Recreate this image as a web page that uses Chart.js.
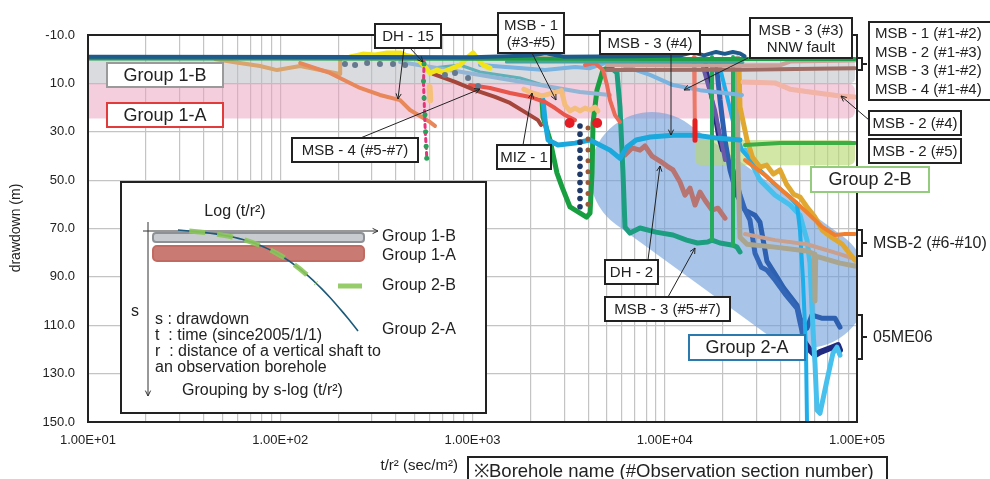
<!DOCTYPE html>
<html>
<head>
<meta charset="utf-8">
<script src="https://cdn.jsdelivr.net/npm/chart.js@4.4.1/dist/chart.umd.min.js"></script>
<style>
body { margin: 0; background: #fff; }
canvas { display: block; }
</style>
</head>
<body>
<canvas id="grafico" width="990" height="479"></canvas>
<script>
const FONTE = '"Liberation Sans", Arial, sans-serif';

// Eixos
const ticksY = [-10, 10, 30, 50, 70, 90, 110, 130, 150];
const decadas = [10, 100, 1000, 10000, 100000];

// Séries [t/r2, rebaixamento]
const linhaVerdeTopo = [[10,-0.3],[100,-0.3],[1000,-0.2],[10000,-0.1],[97600,-0.1]];
const linhaAzulTopo = [[10,-1.0],[300,-0.9],[1000,-0.8],[2000,-1.5],[2400,-2.4],[3000,-1.0],[7000,-1.2],[12000,-1.5],[14000,-2.8],[16000,-1.6],[18500,-3.0],[20500,-2.2],[22600,-3.0],[24600,-2.4],[26000,-1.2]];
const linhaTealTopo = [[1500,1.2],[5000,1.2],[25500,1.4]];
const linhaMarromTopo = [[420,-0.5],[2000,-0.5],[5200,-0.4]];
const msbRosaTopo = [[5000,2.4],[24600,2.6],[40000,2.4],[45000,1.0],[97600,0.5]];
const msbMarromTopo = [[5000,4.5],[24600,4.4],[60000,4.0],[97600,3.7]];
const dh15Bege = [[45.8,-0.1],[56.8,1.2],[78.5,2.8],[96.2,4.5],[127,2.8],[181,5.3],[205,6.1],[205,0.3]];
const dh15Laranja = [[127,1.6],[181,5.7],[260,11.9],[330,14.8],[420,16.9],[473,21.0],[533,23.5],[601,26.0],[638,27.6]];
const dh15Rosa = [[560,1.0],[556,10],[562,20],[568,30],[574,36],[578,40.5]];
const dh15PontosVerdes = [[560,2],[556,9],[560,16],[566,23],[570,30],[574,36],[578,41]];
const dh15Amarelo = [[231,-0.9],[269,-2.1],[311,-1.7],[359,-2.6],[420,-2.6],[446,-1.7],[514,-0.5],[566,3.2],[601,5.7],[654,4.5],[703,5.3],[861,2.4],[936,-0.5],[1006,-2.6],[1055,-0.5],[1134,2.4],[1233,3.7]];
const dh15Pessego = [[598,11.5],[603,16.9]];
const miz1 = [[1850,12.4],[1990,13.6],[2300,15.2],[2900,13.0],[3028,19.0],[3215,21.4],[3414,20.2],[3624,21.4],[3848,20.2],[4087,21.0],[4337,19.8],[4494,21.4]];
const msb4Vinho = [[623,6.1],[811,9.4],[1030,12.8],[1309,15.6],[1567,18.1],[1876,21.9],[2191,25.2],[2272,27.2]];
const msb1Vermelho = [[971,10.7],[1233,11.9],[1567,14.0],[1992,15.6],[2384,17.7],[2686,20.2],[3028,23.1],[3414,25.2]];
const msb1Vermelho2 = [[3848,2.4],[4337,1.6],[4772,4.5],[5008,10.7],[5190,16.9],[5511,23.1],[5851,26.0]];
const blocosVermelhos = [[3200,26.4],[4450,26.4]];
const verticalSalmao = [[14197,-0.9],[14300,16.9],[14368,33.0]];
const verticalVermelho = [[14368,25.5],[14368,33.5]];
const nnwAzulClaro = [[1094,2.4],[2384,4.5],[3414,3.2],[4087,3.7],[4889,1.6],[5511,1.2],[5851,2.0],[6595,3.7],[8380,6.5],[11040,10.7],[15257,12.8],[25220,14.8]];
const azulAcinzentado = [[420,1.2],[1094,6.5],[2245,10.7],[3624,13.6],[5190,14.8]];
const tealClaro = [[601,3.7],[861,2.4],[1094,5.3],[1766,7.8],[2851,12.8]];
const msb3Ciano = [[2327,16.9],[2384,25.2],[2471,33.4],[2784,35.5],[3414,34.7],[4087,33.4],[5190,37.6],[5851,41.0],[6362,36.3],[7100,33.4],[8380,32.2],[11040,31.4],[14500,31.4],[18500,32.6],[24630,33.4]];
const dhVerde = [[2300,16.9],[2327,23.9],[2530,33.4],[2751,47.1],[2921,52.8],[3215,61.1],[3920,65.3],[4087,63.6],[4185,47.1],[4236,26.4],[4440,12.8],[4772,4.5],[5190,3.2]];
const msb3Teal = [[5190,3.2],[5645,5.7],[5851,19.8],[6065,47.1],[6212,69.4],[6595,71.9],[7433,69.8],[9000,71.5],[11040,72.7],[13000,74.8],[14800,76.0],[16700,75.6],[17613,74.8],[19384,76.0],[22650,76.9],[23760,77.7],[24630,79.7]];
const picoVerde1 = [[17613,74.8],[17613,-0.9]];
const picoVerde2 = [[22650,76.9],[22650,-0.9]];
const dh2Marrom = [[6212,39.6],[6754,36.7],[7433,37.6],[7893,35.9],[8585,40.1],[9447,42.1],[10273,44.2],[11040,45.8],[12005,50.8],[12747,56.2],[13535,53.3],[14368,60.3],[15257,54.9],[16195,58.3],[17613,62.4],[18923,61.6],[20580,65.7]];
const roxoDiagonal = [[15800,3.2],[18256,21.0],[20580,41.7]];
const marinhoDiagonal = [[16195,0.3],[17613,16.9],[18923,31.4],[19853,37.6]];
const me06AzulA = [[18476,0.3],[19384,16.9],[20580,33.4],[21850,45.8],[23760,56.2],[26150,62.4],[29470,64.5],[31290,67.4],[34000,83.5],[37800,89.3],[41500,94.5],[48750,101.7],[50520,107.1],[54940,111.2],[58300,105.8],[65500,107.1],[72400,107.1],[76840,107.1],[81570,110.8]];
const me06AzulB = [[22650,45.8],[24630,56.2],[26150,62.4],[27760,66.5],[29470,80.2],[31800,86.0],[34000,87.2],[37460,91.3],[42220,97.0],[48750,103.0],[50520,108.7],[52370,114.1],[54000,118.0]];
const me06Marinho = [[52370,116.2],[56940,120.3],[60460,122.4],[64200,121.1],[72360,119.5],[79650,118.2],[81570,120.3]];
const cianoForte = [[18923,0.3],[21000,14.8],[23200,29.3],[25220,37.6],[30200,44.6],[36700,51.3],[44820,57.0],[48750,60.3],[50520,70.7],[52370,91.3],[54290,120.3],[54940,150]];
const cianoClaro = [[26150,37.6],[31290,50.0],[37460,56.2],[44820,60.3],[50520,64.5],[54940,74.8],[56940,84.3],[59030,112.0],[60460,125.7],[61940,145.1],[64200,146.4],[69820,132.7],[75000,121.5],[78700,119.1],[81570,122.4]];
const msb2Dourado = [[24300,1.0],[24630,19.8],[26780,33.4],[28600,40.5],[31290,44.6],[33900,43.8],[36700,47.5],[39770,45.8],[43000,51.7],[46800,55.8],[50520,57.0],[54940,61.1],[60460,65.3],[66000,70.7],[73600,73.6],[83800,76.5],[97630,83.1]];
const msb2Laranja = [[26150,41.7],[33230,47.9],[40500,54.1],[48750,59.5],[56900,64.5],[66000,69.4],[76840,72.7],[86630,72.3],[97630,72.3]];
const msb2Cinza = [[23760,-0.5],[24000,40.0],[24630,73.6],[26780,76.5],[37460,77.7],[54940,79.3],[60000,80.6],[60460,100.0],[61000,81.4],[81570,84.3],[97630,85.5]];
const msb2RosaBege = [[26150,72.3],[37460,74.8],[54940,76.5],[81570,80.6],[97630,82.7]];
const msb2Verde5 = [[26150,35.5],[39770,34.7],[97630,34.7]];
const msb2Rosa4 = [[25530,9.4],[37460,9.8],[44820,12.4],[56940,13.6],[81570,15.2],[97630,15.6]];
const pontosMarinhoX = 3624;
const pontosMarinhoY = [27.6, 31.0, 34.3, 37.6, 41.0, 44.3, 47.6, 51.0, 54.3, 57.6, 61.0];
const pontosMarromX = 3989;
const pontosMarromY = [28.5, 33.0, 37.5, 42.0, 46.5, 51.0, 55.5, 60.0];
const pontosCinza = [[217,2.0],[245,2.4],[283,1.6],[330,2.0],[386,2.0],[446,2.4],[719,6.5],[811,5.7],[948,7.8],[1068,11.1]];

// Áreas de agrupamento (em unidades dos eixos)
const faixaGrupo1B = { xMin: 10, xMax: 97600, yMin: 0, yMax: 10 };
const faixaGrupo1A = { xMin: 10, xMax: 97600, yMin: 10, yMax: 24.5 };
const faixaGrupo2B = { xMin: 14350, xMax: 97600, yMin: 33.4, yMax: 43.8 };
const capsulaGrupo2A = { x1: 8590, y1: 47.5, x2: 54300, y2: 93.8 };

function serie(pontos, cor, largura, extra) {
    return Object.assign({
        data: pontos.map(p => ({ x: p[0], y: p[1] })),
        borderColor: cor,
        backgroundColor: cor,
        borderWidth: largura,
        showLine: true,
        pointRadius: 0,
        borderCapStyle: 'round',
        borderJoinStyle: 'round',
        tension: 0
    }, extra || {});
}

function pontos(lista, cor, raio) {
    return serie(lista, cor, 0, { showLine: false, pointRadius: raio, pointBorderWidth: 0 });
}

const ticksX = [];
decadas.slice(0, -1).forEach(d => {
    for (let m = 1; m <= 9; m++) ticksX.push(d * m);
});
ticksX.push(100000);

const datasets = [
    pontos(dh15PontosVerdes, '#2ca05a', 2.5),
    pontos(pontosMarinhoY.map(v => [pontosMarinhoX, v]), '#1f3a68', 2.8),
    pontos(pontosMarromY.map(v => [pontosMarromX, v]), '#9a5a3a', 2.5),
    pontos(pontosCinza, '#66788e', 3),
    pontos(blocosVermelhos, '#e51c24', 5),
    serie(dh15Rosa, '#e6337a', 3, { borderDash: [3, 4] }),
    serie(linhaAzulTopo, '#1f5a8c', 4),
    serie(linhaVerdeTopo, '#1f9e48', 4),
    serie(linhaTealTopo, '#4aa3a3', 3),
    serie(linhaMarromTopo, '#8a5a30', 3),
    serie(msbRosaTopo, '#c9a39b', 4),
    serie(msbMarromTopo, '#9e6e66', 4),
    serie(dh15Amarelo, '#f3e41a', 5),
    serie(dh15Pessego, '#f5c07a', 6),
    serie(miz1, '#f5bd7c', 5),
    serie(dh15Laranja, '#e8875a', 4),
    serie(dh15Bege, '#d9a46d', 4),
    serie(msb4Vinho, '#a6453a', 4),
    serie(msb1Vermelho, '#e8554a', 4),
    serie(msb1Vermelho2, '#ea6a58', 4),
    serie(verticalVermelho, '#e52020', 5),
    serie(verticalSalmao, '#ec7868', 4),
    serie(nnwAzulClaro, '#7ab3e0', 4),
    serie(azulAcinzentado, '#93b6d6', 4),
    serie(tealClaro, '#5fb0b8', 3),
    serie(msb3Ciano, '#1ba8dc', 5),
    serie(dhVerde, '#18a040', 5),
    serie(picoVerde1, '#25ab5a', 4),
    serie(picoVerde2, '#25ab5a', 4),
    serie(msb3Teal, '#1e9e80', 5),
    serie(dh2Marrom, '#b77470', 5),
    serie(roxoDiagonal, '#6a58a8', 4),
    serie(marinhoDiagonal, '#2a2a80', 4),
    serie(msb2Verde5, '#3cae44', 4),
    serie(msb2Rosa4, '#f2b4a6', 5),
    serie(msb2Laranja, '#f08030', 4),
    serie(msb2Dourado, '#e0a830', 5),
    serie(msb2RosaBege, '#c9a08e', 4),
    serie(msb2Cinza, '#aaa58e', 5),
    serie(cianoForte, '#1eaeea', 4),
    serie(cianoClaro, '#48c0ee', 5),
    serie(me06Marinho, '#1f2a80', 6),
    serie(me06AzulB, '#3466b8', 5),
    serie(me06AzulA, '#2d60b0', 5)
];

// Caixas de texto (posições em pixels da figura)
const caixas = [
    { x: 107, y: 63, w: 116, h: 24, txt: ['Group 1-B'], borda: '#9a9a9a', fonte: 18 },
    { x: 107, y: 103, w: 116, h: 24, txt: ['Group 1-A'], borda: '#e23b3b', fonte: 18 },
    { x: 375, y: 24, w: 66, h: 24, txt: ['DH - 15'] },
    { x: 498, y: 13, w: 66, h: 40, txt: ['MSB - 1', '(#3-#5)'], entrelinha: 17 },
    { x: 600, y: 31, w: 100, h: 23, txt: ['MSB - 3 (#4)'] },
    { x: 750, y: 18, w: 102, h: 40, txt: ['MSB - 3 (#3)', 'NNW fault'], entrelinha: 17 },
    { x: 869, y: 22, w: 130, h: 78, txt: ['MSB - 1 (#1-#2)', 'MSB - 2 (#1-#3)', 'MSB - 3 (#1-#2)', 'MSB - 4 (#1-#4)'], alinhar: 'left', entrelinha: 18.5 },
    { x: 869, y: 111, w: 92, h: 24, txt: ['MSB - 2 (#4)'] },
    { x: 869, y: 139, w: 92, h: 24, txt: ['MSB - 2 (#5)'] },
    { x: 811, y: 167, w: 118, h: 25, txt: ['Group 2-B'], borda: '#93cc7c', fonte: 18 },
    { x: 689, y: 335, w: 116, h: 25, txt: ['Group 2-A'], borda: '#2a7ab0', fonte: 18 },
    { x: 605, y: 260, w: 53, h: 24, txt: ['DH - 2'] },
    { x: 605, y: 297, w: 125, h: 24, txt: ['MSB - 3 (#5-#7)'] },
    { x: 497, y: 145, w: 54, h: 24, txt: ['MIZ - 1'] },
    { x: 292, y: 138, w: 126, h: 24, txt: ['MSB - 4 (#5-#7)'] }
];

const setas = [
    [404, 48, 398, 99], [410, 48, 423, 62],
    [532, 53, 556, 100],
    [671, 54, 671, 135],
    [748, 58, 684, 90],
    [869, 120, 841, 96],
    [648, 260, 660, 166],
    [668, 297, 695, 248],
    [523, 145, 532, 93],
    [358, 139, 480, 89]
];

function faixa(ctx, x, y, f, cor, raio) {
    const x0 = x.getPixelForValue(f.xMin), x1 = x.getPixelForValue(f.xMax);
    const y0 = y.getPixelForValue(f.yMin), y1 = y.getPixelForValue(f.yMax);
    ctx.fillStyle = cor;
    ctx.beginPath();
    ctx.roundRect(x0, Math.min(y0, y1), x1 - x0, Math.abs(y1 - y0), raio);
    ctx.fill();
}

function caixa(ctx, c) {
    ctx.fillStyle = '#fff';
    ctx.fillRect(c.x, c.y, c.w, c.h);
    ctx.strokeStyle = c.borda || '#222';
    ctx.lineWidth = 2;
    ctx.strokeRect(c.x, c.y, c.w, c.h);
    const tam = c.fonte || 15;
    ctx.fillStyle = '#222';
    ctx.font = `${tam}px ${FONTE}`;
    ctx.textBaseline = 'middle';
    const alinhar = c.alinhar || 'center';
    ctx.textAlign = alinhar;
    const tx = alinhar === 'center' ? c.x + c.w / 2 : c.x + 6;
    const lh = c.entrelinha || tam * 1.2;
    const y0 = c.y + c.h / 2 - (c.txt.length - 1) * lh / 2 + 1;
    c.txt.forEach((t, i) => ctx.fillText(t, tx, y0 + i * lh));
}

function seta(ctx, x1, y1, x2, y2, cor) {
    ctx.strokeStyle = cor || '#222';
    ctx.lineWidth = 1;
    ctx.beginPath();
    ctx.moveTo(x1, y1);
    ctx.lineTo(x2, y2);
    const ang = Math.atan2(y2 - y1, x2 - x1), t = 6;
    ctx.moveTo(x2 - t * Math.cos(ang - 0.45), y2 - t * Math.sin(ang - 0.45));
    ctx.lineTo(x2, y2);
    ctx.lineTo(x2 - t * Math.cos(ang + 0.45), y2 - t * Math.sin(ang + 0.45));
    ctx.stroke();
}

function chave(ctx, x, y1, y2) {
    ctx.strokeStyle = '#222';
    ctx.lineWidth = 2;
    ctx.beginPath();
    ctx.moveTo(x, y1);
    ctx.lineTo(x + 5, y1);
    ctx.lineTo(x + 5, y2);
    ctx.lineTo(x, y2);
    ctx.moveTo(x + 5, (y1 + y2) / 2);
    ctx.lineTo(x + 10, (y1 + y2) / 2);
    ctx.stroke();
}

function texto(ctx, t, x, y, tam, alinhar) {
    ctx.fillStyle = '#222';
    ctx.font = `${tam}px ${FONTE}`;
    ctx.textAlign = alinhar || 'left';
    ctx.textBaseline = 'middle';
    ctx.fillText(t, x, y);
}

// Quadro explicativo dentro do gráfico
function desenharQuadro(ctx) {
    ctx.fillStyle = '#fff';
    ctx.fillRect(121, 182, 365, 231);
    ctx.strokeStyle = '#222';
    ctx.lineWidth = 2;
    ctx.strokeRect(121, 182, 365, 231);

    texto(ctx, 'Log (t/r²)', 235, 212, 16, 'center');
    seta(ctx, 143, 231, 378, 231, '#333');
    seta(ctx, 148, 222, 148, 396, '#333');

    ctx.fillStyle = '#c8cbcf';
    ctx.strokeStyle = '#8d9196';
    ctx.lineWidth = 2;
    ctx.beginPath();
    ctx.roundRect(153, 233, 211, 9, 3);
    ctx.fill();
    ctx.stroke();

    ctx.fillStyle = '#c97b73';
    ctx.strokeStyle = '#c06a62';
    ctx.beginPath();
    ctx.roundRect(153, 246, 211, 15, 4);
    ctx.fill();
    ctx.stroke();

    const b = t => {
        const p = [[178, 230], [255, 236], [292, 246], [358, 331]];
        const u = 1 - t;
        return [
            u*u*u*p[0][0] + 3*u*u*t*p[1][0] + 3*u*t*t*p[2][0] + t*t*t*p[3][0],
            u*u*u*p[0][1] + 3*u*u*t*p[1][1] + 3*u*t*t*p[2][1] + t*t*t*p[3][1]
        ];
    };
    ctx.strokeStyle = '#1b5a7a';
    ctx.lineWidth = 1.6;
    ctx.beginPath();
    for (let i = 0; i <= 40; i++) {
        const q = b(i / 40);
        i === 0 ? ctx.moveTo(q[0], q[1]) : ctx.lineTo(q[0], q[1]);
    }
    ctx.stroke();

    ctx.strokeStyle = 'rgba(140,198,90,0.9)';
    ctx.lineWidth = 5;
    ctx.setLineDash([16, 12]);
    ctx.beginPath();
    for (let i = 0; i <= 30; i++) {
        const q = b(0.05 + 0.72 * i / 30);
        i === 0 ? ctx.moveTo(q[0], q[1]) : ctx.lineTo(q[0], q[1]);
    }
    ctx.stroke();
    ctx.setLineDash([]);
    ctx.beginPath();
    ctx.moveTo(338, 286);
    ctx.lineTo(362, 286);
    ctx.stroke();

    texto(ctx, 'Group 1-B', 382, 237, 16);
    texto(ctx, 'Group 1-A', 382, 256, 16);
    texto(ctx, 'Group 2-B', 382, 286, 16);
    texto(ctx, 'Group 2-A', 382, 330, 16);
    texto(ctx, 's', 131, 312, 16);
    texto(ctx, 's : drawdown', 155, 320, 16);
    texto(ctx, 't  : time (since2005/1/1)', 155, 336, 16);
    texto(ctx, 'r  : distance of a vertical shaft to', 155, 352, 16);
    texto(ctx, 'an observation borehole', 155, 368, 16);
    texto(ctx, 'Grouping by s-log (t/r²)', 182, 391, 16);
}

const pluginFundo = {
    id: 'fundo',
    beforeDatasetsDraw(chart) {
        const { ctx, chartArea: a, scales: { x, y } } = chart;
        ctx.save();
        ctx.beginPath();
        ctx.rect(a.left, a.top, a.right - a.left, a.bottom - a.top);
        ctx.clip();
        faixa(ctx, x, y, faixaGrupo1B, 'rgba(188,190,195,0.55)', [0, 5, 5, 0]);
        faixa(ctx, x, y, faixaGrupo1A, 'rgba(236,158,188,0.5)', [0, 7, 7, 0]);

        const p1x = x.getPixelForValue(capsulaGrupo2A.x1), p1y = y.getPixelForValue(capsulaGrupo2A.y1);
        const p2x = x.getPixelForValue(capsulaGrupo2A.x2), p2y = y.getPixelForValue(capsulaGrupo2A.y2);
        const r = 62;
        const comp = Math.hypot(p2x - p1x, p2y - p1y);
        ctx.save();
        ctx.translate(p1x, p1y);
        ctx.rotate(Math.atan2(p2y - p1y, p2x - p1x));
        ctx.fillStyle = 'rgba(110,158,218,0.6)';
        ctx.beginPath();
        ctx.roundRect(-r, -r, comp + 2 * r, 2 * r, r);
        ctx.fill();
        ctx.restore();

        faixa(ctx, x, y, faixaGrupo2B, 'rgba(182,214,112,0.62)', 6);
        ctx.restore();
    },
    afterDraw(chart) {
        const { ctx, chartArea: a } = chart;
        ctx.save();
        ctx.strokeStyle = '#222';
        ctx.lineWidth = 2;
        ctx.strokeRect(a.left, a.top, a.right - a.left, a.bottom - a.top);

        // título do eixo y
        ctx.save();
        ctx.translate(16, 228);
        ctx.rotate(-Math.PI / 2);
        texto(ctx, 'drawdown (m)', 0, 0, 14, 'center');
        ctx.restore();

        desenharQuadro(ctx);
        setas.forEach(s => seta(ctx, s[0], s[1], s[2], s[3]));
        caixas.forEach(c => caixa(ctx, c));

        chave(ctx, 857, 58, 70);
        chave(ctx, 857, 230, 256);
        texto(ctx, 'MSB-2 (#6-#10)', 873, 244, 16);
        chave(ctx, 857, 315, 359);
        texto(ctx, '05ME06', 873, 338, 16);

        texto(ctx, 't/r² (sec/m²)', 458, 466, 15, 'right');
        caixa(ctx, { x: 468, y: 457, w: 419, h: 27, txt: ['※Borehole name (#Observation section number)'], alinhar: 'left', fonte: 18.5 });
        ctx.restore();
    }
};

Chart.defaults.font.family = FONTE;
Chart.defaults.color = '#222';

new Chart(document.getElementById('grafico'), {
    type: 'scatter',
    data: { datasets },
    options: {
        responsive: false,
        animation: false,
        layout: { padding: { top: 35, right: 133, bottom: 0, left: 0 } },
        plugins: { legend: { display: false }, tooltip: { enabled: false } },
        scales: {
            x: {
                type: 'logarithmic',
                min: 10,
                max: 100000,
                afterBuildTicks: s => { s.ticks = ticksX.map(v => ({ value: v })); },
                afterFit: s => { s.height = 57; },
                grid: { color: '#c4c4c4', lineWidth: 1.2, drawTicks: false },
                border: { display: false },
                ticks: {
                    autoSkip: false,
                    maxRotation: 0,
                    padding: 11,
                    font: { size: 13 },
                    callback: v => {
                        const e = Math.log10(v);
                        if (Math.abs(e - Math.round(e)) > 1e-9) return '';
                        return '1.00E+' + String(Math.round(e)).padStart(2, '0');
                    }
                }
            },
            y: {
                min: -10,
                max: 150,
                reverse: true,
                afterBuildTicks: s => { s.ticks = ticksY.map(v => ({ value: v })); },
                afterFit: s => { s.width = 88; },
                grid: { color: '#c4c4c4', lineWidth: 1.2, drawTicks: false },
                border: { display: false },
                ticks: { padding: 13, font: { size: 13 }, callback: v => v.toFixed(1) }
            }
        }
    },
    plugins: [pluginFundo]
});
</script>
</body>
</html>
